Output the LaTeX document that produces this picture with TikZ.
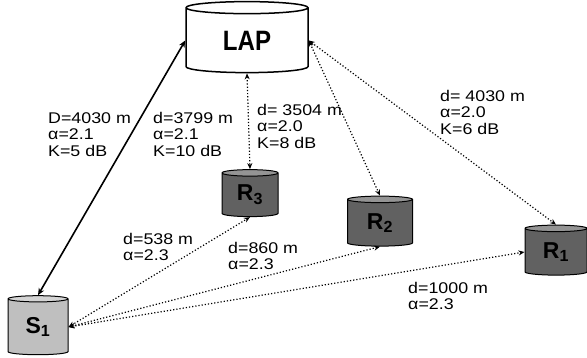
\documentclass[tikz,border=0pt]{standalone}
\usepackage{fontspec}
\setmainfont{Liberation Sans}
\newfontfamily\labelfont[FakeStretch=1.15]{Liberation Sans}
\newfontfamily\lapfont[FakeStretch=0.86]{Liberation Sans Bold}
\usetikzlibrary{shapes.geometric,arrows.meta}

\tikzset{
	station/.style={cylinder, shape border rotate=90, draw, line width=1pt, aspect=0.25, cylinder uses custom fill, inner sep=0pt, font=\bfseries\fontsize{23}{23}\selectfont},
	relay/.style={station, cylinder body fill=black!62, cylinder end fill=black!42},
	link/.style={<->, >={Stealth[length=6pt,width=5pt]}, dotted, line width=1.2pt},
	info/.style={anchor=north west, inner sep=0pt, align=left, font=\labelfont\fontsize{15.5}{16.5}\selectfont}
}

\begin{document}
\begin{tikzpicture}[x=1pt, y=-1pt]
	
	\useasboundingbox (0,0) rectangle (587,358);
	
	\node [station, cylinder body fill=white, cylinder end fill=white, line width=1.5pt, minimum width=122, minimum height=71, font=\lapfont\fontsize{28}{28}\selectfont] (lap) at (247,40.5) {LAP};
	
	\node [relay, minimum width=56, minimum height=47] (r3) at (250,195) {R\textsubscript{3}};
	\node [relay, minimum width=65, minimum height=50] (r2) at (380,223) {R\textsubscript{2}};
	\node [relay, minimum width=62, minimum height=50] (r1) at (556,252) {R\textsubscript{1}};
	
	\node [station, cylinder body fill=black!25, cylinder end fill=black!17, minimum width=60, minimum height=59] (s1) at (38,327) {S\textsubscript{1}};
	
	\draw [<->, >={Stealth[length=7pt,width=6pt]}, line width=1.6pt] (lap.west)--(s1.north);
	\draw [link] (lap.south)--(r3.north);
	\draw [link] (lap.east)--(r2.north);
	\draw [link] (lap.east)--(r1.north);
	\draw [link] (s1.east)--(r3.south);
	\draw [link] (s1.east)--(r2.south);
	\draw [link] (s1.east)--(r1.west);
	
	\node [info] (i1) at (48,112) {D=4030 m\\α=2.1\\K=5 dB};
	\node [info] (i2) at (153,112) {d=3799 m\\α=2.1\\K=10 dB};
	\node [info] (i3) at (257,104) {d= 3504 m\\α=2.0\\K=8 dB};
	\node [info] (i4) at (440,90) {d= 4030 m\\α=2.0\\K=6 dB};
	\node [info] (i5) at (123,233) {d=538 m\\α=2.3};
	\node [info] (i6) at (228,242) {d=860 m\\α=2.3};
	\node [info] (i7) at (408,282) {d=1000 m\\α=2.3};
	
\end{tikzpicture}
\end{document}
